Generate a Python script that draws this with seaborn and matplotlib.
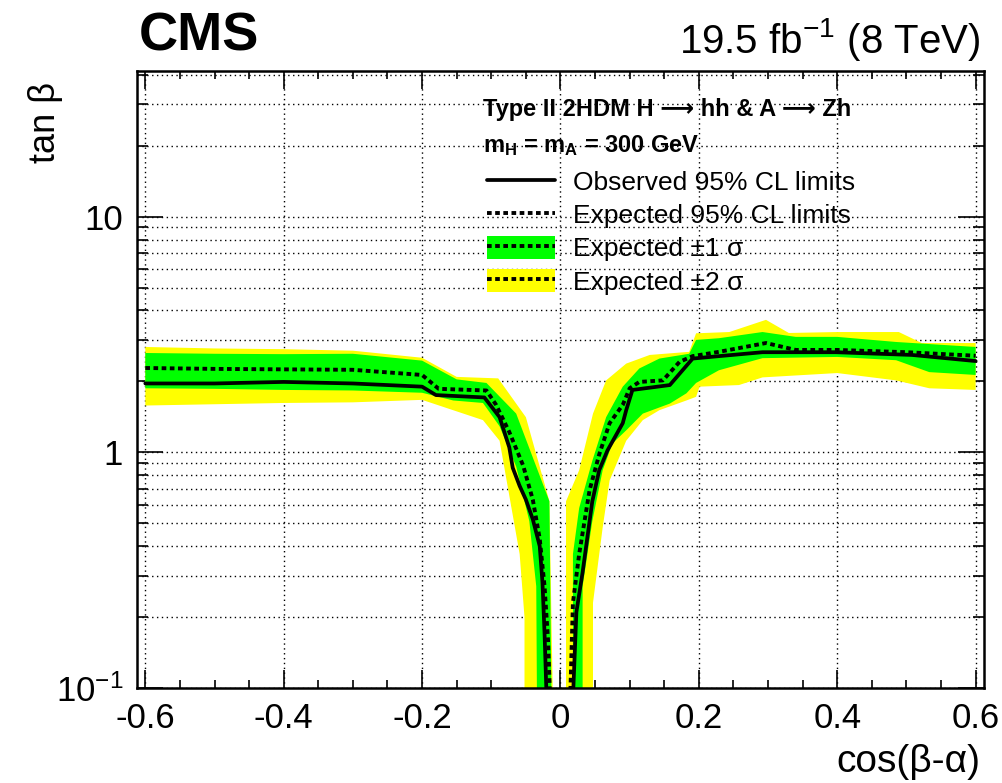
import numpy as np
import matplotlib
matplotlib.use("Agg")
import matplotlib.pyplot as plt
import seaborn as sns
from matplotlib.lines import Line2D
from matplotlib.patches import Patch
from matplotlib.ticker import FixedLocator, NullFormatter, MultipleLocator

sns.set_theme(style="ticks")
plt.rcParams["font.family"] = ["Liberation Sans", "DejaVu Sans"]
plt.rcParams["mathtext.fontset"] = "custom"
plt.rcParams["mathtext.rm"] = "Liberation Sans"
plt.rcParams["mathtext.it"] = "Liberation Sans:italic"
plt.rcParams["mathtext.bf"] = "Liberation Sans:bold"
plt.rcParams["axes.unicode_minus"] = False
for k in ["text.color", "axes.labelcolor", "xtick.color", "ytick.color", "axes.edgecolor"]:
    plt.rcParams[k] = "black"

NARROW = ["Liberation Sans Narrow", "Liberation Sans", "DejaVu Sans"]

# ==========================================
# Limits (cos(beta-alpha), tan beta)
# ==========================================
# left branch (cos < 0)
obs_l_x = [-0.60, -0.50, -0.40, -0.30, -0.20, -0.18, -0.11, -0.088, -0.074, -0.069, -0.059, -0.050, -0.040, -0.030, -0.026, -0.023, -0.020]
obs_l_y = [1.96, 1.96, 1.99, 1.96, 1.90, 1.75, 1.71, 1.41, 1.05, 0.86, 0.72, 0.63, 0.52, 0.40, 0.28, 0.17, 0.09]

exp_l_x = [-0.60, -0.50, -0.40, -0.30, -0.20, -0.176, -0.107, -0.093, -0.074, -0.054, -0.040, -0.030, -0.023, -0.018, -0.015]
exp_l_y = [2.28, 2.26, 2.25, 2.24, 2.13, 1.86, 1.83, 1.59, 1.22, 0.88, 0.63, 0.43, 0.27, 0.16, 0.09]

s1_up_l_x = [-0.60, -0.50, -0.40, -0.30, -0.20, -0.15, -0.107, -0.064, -0.016, -0.013]
s1_up_l_y = [2.64, 2.62, 2.61, 2.62, 2.45, 2.04, 1.97, 1.46, 0.62, 0.09]
s1_dn_l_x = [-0.60, -0.50, -0.40, -0.30, -0.20, -0.155, -0.112, -0.088, -0.064, -0.045, -0.035, -0.034]
s1_dn_l_y = [1.87, 1.86, 1.84, 1.83, 1.79, 1.66, 1.62, 1.29, 0.87, 0.51, 0.27, 0.09]

s2_up_l_x = [-0.60, -0.50, -0.40, -0.30, -0.20, -0.15, -0.090, -0.050, -0.016, -0.011]
s2_up_l_y = [2.80, 2.76, 2.74, 2.70, 2.52, 2.09, 2.06, 1.41, 0.62, 0.09]
s2_dn_l_x = [-0.60, -0.50, -0.40, -0.30, -0.20, -0.112, -0.088, -0.059, -0.052, -0.052]
s2_dn_l_y = [1.58, 1.60, 1.62, 1.63, 1.67, 1.37, 1.12, 0.37, 0.20, 0.09]

# right branch (cos > 0)
obs_r_x = [0.018, 0.023, 0.032, 0.046, 0.056, 0.068, 0.090, 0.095, 0.104, 0.158, 0.191, 0.229, 0.292, 0.398, 0.508, 0.60]
obs_r_y = [0.09, 0.21, 0.31, 0.62, 0.84, 1.02, 1.33, 1.51, 1.84, 1.93, 2.50, 2.56, 2.66, 2.66, 2.59, 2.44]

exp_r_x = [0.014, 0.018, 0.027, 0.042, 0.056, 0.071, 0.090, 0.100, 0.114, 0.148, 0.172, 0.191, 0.229, 0.297, 0.34, 0.40, 0.50, 0.60]
exp_r_y = [0.09, 0.23, 0.37, 0.69, 0.98, 1.33, 1.59, 1.87, 1.99, 2.02, 2.42, 2.56, 2.67, 2.91, 2.72, 2.72, 2.66, 2.57]

s1_up_r_x = [0.018, 0.018, 0.027, 0.046, 0.066, 0.090, 0.114, 0.143, 0.186, 0.196, 0.229, 0.292, 0.34, 0.40, 0.485, 0.60]
s1_up_r_y = [0.09, 0.37, 0.58, 0.92, 1.41, 1.90, 2.27, 2.50, 2.62, 3.00, 3.05, 3.24, 3.09, 3.09, 2.94, 2.80]
s1_dn_r_x = [0.032, 0.032, 0.046, 0.061, 0.075, 0.095, 0.119, 0.158, 0.182, 0.196, 0.229, 0.292, 0.40, 0.485, 0.533, 0.60]
s1_dn_r_y = [0.09, 0.27, 0.51, 0.84, 1.09, 1.24, 1.46, 1.61, 1.78, 1.97, 2.23, 2.51, 2.54, 2.46, 2.19, 2.13]

s2_up_r_x = [0.008, 0.008, 0.027, 0.047, 0.066, 0.095, 0.129, 0.186, 0.196, 0.244, 0.297, 0.33, 0.40, 0.489, 0.522, 0.60]
s2_up_r_y = [0.09, 0.62, 0.84, 1.46, 2.02, 2.38, 2.59, 2.67, 3.20, 3.24, 3.65, 3.21, 3.24, 3.24, 2.91, 2.91]
s2_dn_r_x = [0.047, 0.047, 0.061, 0.071, 0.095, 0.119, 0.143, 0.182, 0.196, 0.201, 0.258, 0.292, 0.40, 0.485, 0.533, 0.60]
s2_dn_r_y = [0.09, 0.23, 0.48, 0.76, 1.12, 1.37, 1.51, 1.66, 1.72, 1.90, 1.93, 2.08, 2.17, 2.02, 1.87, 1.84]

x_ticks = [-0.6, -0.4, -0.2, 0.0, 0.2, 0.4, 0.6]
x_ticklabels = ["-0.6", "-0.4", "-0.2", "0", "0.2", "0.4", "0.6"]
y_ticks = [0.1, 1, 10]
y_ticklabels = ["10$^{-1}$", "1", "10"]

labels = ["Observed 95% CL limits", "Expected 95% CL limits",
          "Expected \u00b11 \u03c3", "Expected \u00b12 \u03c3"]

GREEN = "#00ff00"
YELLOW = "#ffff00"
DASH = (0, (1.2, 0.9))

fig = plt.figure(figsize=(10.03, 7.83), dpi=100)
ax = fig.add_axes([0.1366, 0.1213, 0.8444, 0.788])
ax.set_yscale("log")


def band(xu, yu, xd, yd, color):
    xs = list(xu) + list(xd)[::-1]
    ys = list(yu) + list(yd)[::-1]
    ax.fill(xs, ys, color=color, lw=0, zorder=1)


band(s2_up_l_x, s2_up_l_y, s2_dn_l_x, s2_dn_l_y, YELLOW)
band(s2_up_r_x, s2_up_r_y, s2_dn_r_x, s2_dn_r_y, YELLOW)
band(s1_up_l_x, s1_up_l_y, s1_dn_l_x, s1_dn_l_y, GREEN)
band(s1_up_r_x, s1_up_r_y, s1_dn_r_x, s1_dn_r_y, GREEN)

for xs, ys in [(exp_l_x, exp_l_y), (exp_r_x, exp_r_y)]:
    sns.lineplot(x=xs, y=ys, ax=ax, color="black", lw=2.8, linestyle=DASH,
                 sort=False, estimator=None, zorder=3)
for xs, ys in [(obs_l_x, obs_l_y), (obs_r_x, obs_r_y)]:
    sns.lineplot(x=xs, y=ys, ax=ax, color="black", lw=2.7,
                 sort=False, estimator=None, zorder=4)

ax.set_xlim(-0.612, 0.612)
ax.set_ylim(0.1, 41.5)

# ticks
ax.set_xticks(x_ticks)
ax.set_xticklabels(x_ticklabels, family=NARROW)
ax.xaxis.set_minor_locator(MultipleLocator(0.05))
ax.yaxis.set_major_locator(FixedLocator(y_ticks))
ax.set_yticklabels(y_ticklabels, family=NARROW)
ax.yaxis.set_minor_locator(FixedLocator([m * d for d in [0.1, 1, 10] for m in range(2, 10)]))
ax.yaxis.set_minor_formatter(NullFormatter())
ax.tick_params(axis="both", which="both", direction="in", top=True, right=True,
               color="black", width=1.2, labelsize=25, labelcolor="black")
ax.tick_params(axis="x", which="major", length=13, pad=10)
ax.tick_params(axis="x", which="minor", length=6)
ax.tick_params(axis="y", which="major", length=19, pad=10)
ax.tick_params(axis="y", which="minor", length=8)
for s in ax.spines.values():
    s.set_linewidth(1.8)
    s.set_color("black")

# dotted grid
ax.set_axisbelow(True)
ax.grid(True, which="both", axis="y", color="black", lw=1.0, linestyle=(0, (1, 2.5)))
ax.grid(True, which="major", axis="x", color="black", lw=1.0, linestyle=(0, (1, 2.5)))

# labels
fig.text(0.045, 0.895, "tan \u03b2", rotation=90, ha="center", va="top", fontsize=26)
fig.text(0.977, 0.027, "cos(\u03b2-\u03b1)", ha="right", va="center", fontsize=28, family=NARROW)
fig.text(0.138, 0.953, "CMS", ha="left", va="center", fontsize=39, fontweight="bold")
fig.text(0.978, 0.950, "19.5 fb$^{-1}$ (8 TeV)", ha="right", va="center", fontsize=29)

# legend header
ax.text(0.408, 0.937, "Type II 2HDM H \u27f6 hh & A \u27f6 Zh", transform=ax.transAxes,
        ha="left", va="center", fontsize=17, fontweight="bold")
ax.text(0.408, 0.880, r"m$_{\mathbf{H}}$ = m$_{\mathbf{A}}$ = 300 GeV", transform=ax.transAxes,
        ha="left", va="center", fontsize=17, fontweight="bold")

obs_h = Line2D([], [], color="black", lw=2.7)
exp_h = Line2D([], [], color="black", lw=2.8, linestyle=DASH)
h1 = (Patch(facecolor=GREEN, edgecolor="none"), exp_h)
h2 = (Patch(facecolor=YELLOW, edgecolor="none"), exp_h)
ax.legend([obs_h, exp_h, h1, h2], labels, loc="upper left", bbox_to_anchor=(0.413, 0.84),
          frameon=False, fontsize=19, handlelength=2.6, handleheight=0.95,
          labelspacing=0.29, handletextpad=0.65, borderaxespad=0, borderpad=0)

plt.savefig("out.png", dpi=100)
